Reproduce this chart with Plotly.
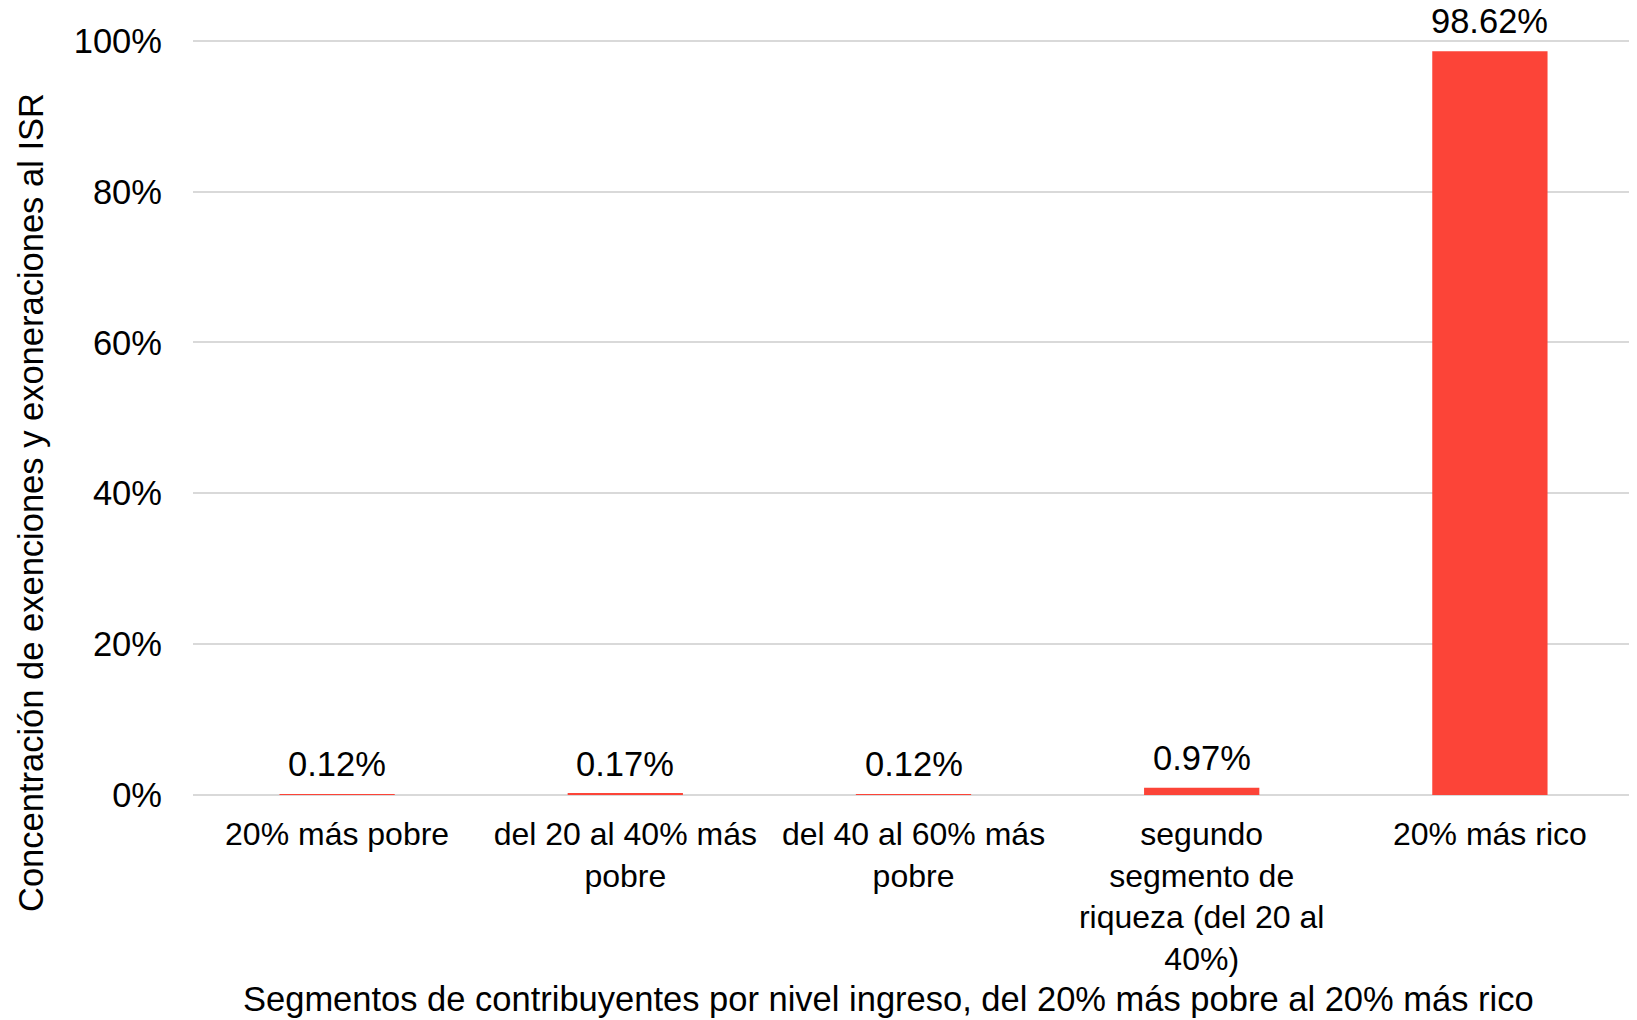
import plotly.graph_objects as go

categories = ["20% más pobre", "del 20 al 40% más pobre", "del 40 al 60% más pobre",
              "segundo segmento de riqueza (del 20 al 40%)", "20% más rico"]
tick_labels = ["20% más pobre", "del 20 al 40% más<br>pobre", "del 40 al 60% más<br>pobre",
               "segundo<br>segmento de<br>riqueza (del 20 al<br>40%)", "20% más rico"]
values = [0.12, 0.17, 0.12, 0.97, 98.62]
y_tick_vals = [0, 20, 40, 60, 80, 100]
y_tick_text = ["0%", "20%", "40%", "60%", "80%", "100%"]

FONT = "Liberation Sans, Arial, sans-serif"
RED = "#fc4438"
FS = 34.5

fig = go.Figure()
fig.add_trace(go.Bar(
    x=categories, y=values,
    marker=dict(color=RED, line=dict(width=0)),
    cliponaxis=False, width=0.4,
))

# page has an 8px body margin; the figure is sized/offset to compensate
W, H = 1629, 1012
L, R, T, B = 185, 3, 29, 225
pw, ph = W - L - R, H - T - B

annotations = [
    dict(text=f"{v:.2f}%", x=c, y=v, xref="x", yref="y",
         xanchor="center", yanchor="middle", yshift=30, showarrow=False,
         font=dict(size=FS, color="#000000", family=FONT))
    for c, v in zip(categories, values)
]
annotations += [
    dict(text="Concentración de exenciones y exoneraciones al ISR",
         xref="paper", yref="paper", x=(23 - L) / pw, y=(787 - 495) / ph,
         xanchor="center", yanchor="middle", textangle=-90, showarrow=False,
         font=dict(size=FS, color="#000000", family=FONT)),
    dict(text="Segmentos de contribuyentes por nivel ingreso, del 20% más pobre al 20% más rico",
         xref="paper", yref="paper", x=(880 - L) / pw, y=(787 - 991) / ph,
         xanchor="center", yanchor="middle", showarrow=False,
         font=dict(size=FS, color="#000000", family=FONT)),
]

fig.update_layout(
    width=W, height=H,
    margin=dict(l=L, r=R, t=T, b=B, autoexpand=False),
    paper_bgcolor="white", plot_bgcolor="white",
    font=dict(family=FONT, size=FS, color="#000000"),
    showlegend=False,
    xaxis=dict(tickmode="array", tickvals=categories, ticktext=tick_labels,
               showgrid=False, showline=False, ticks="", ticklabelstandoff=17,
               tickangle=0, automargin=False,
               tickfont=dict(size=32, color="#000000")),
    yaxis=dict(range=[0, 100.5], tickmode="array", tickvals=y_tick_vals, ticktext=y_tick_text,
               showgrid=True, gridcolor="#d9d9d9", gridwidth=1.5,
               zeroline=True, zerolinecolor="#d9d9d9", zerolinewidth=1.5,
               showline=False, ticks="", ticklabelstandoff=30, automargin=False,
               tickfont=dict(size=FS, color="#000000")),
    annotations=annotations,
)

fig.write_html("out.html")
